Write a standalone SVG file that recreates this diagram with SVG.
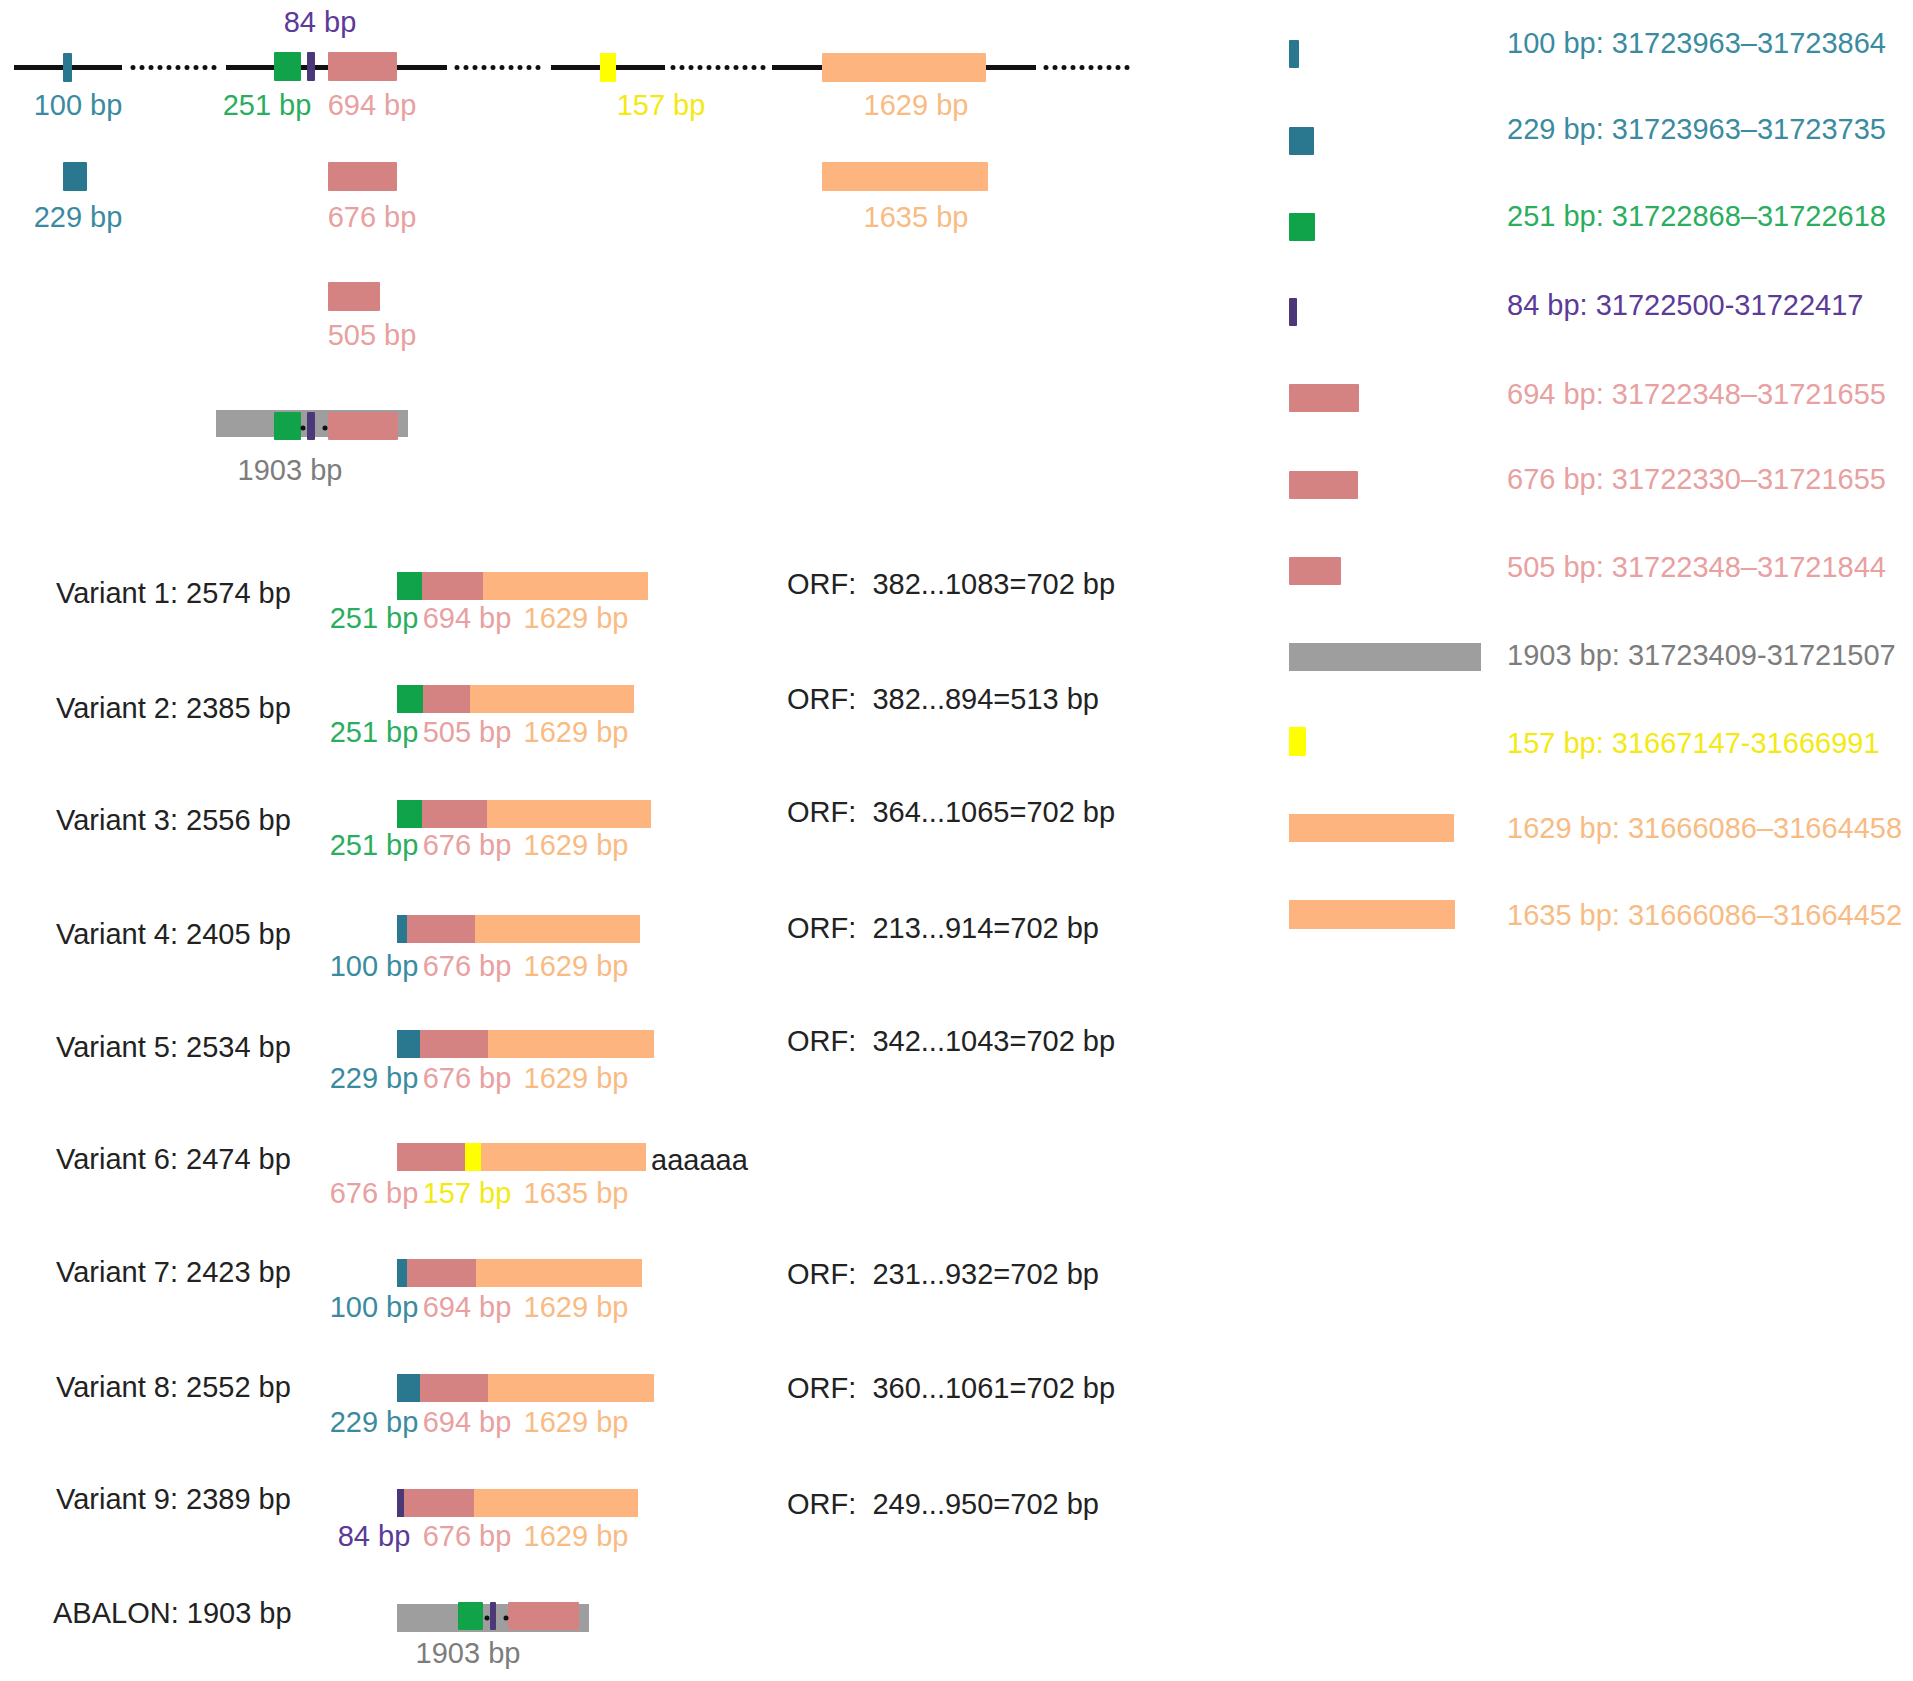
<svg xmlns="http://www.w3.org/2000/svg" width="1913" height="1681" viewBox="0 0 1913 1681">
<style>
text{font-family:"Liberation Sans",Arial,sans-serif;font-size:29px}
.c{text-anchor:middle}
.k{fill:#222}
.orf{fill:#222;white-space:pre}
.tT{fill:#3a8ba0}.tG{fill:#2aae5e}.tP{fill:#5b3a98}.tR{fill:#e8a0a0}.tY{fill:#f2ea12}.tO{fill:#f8bb84}.tA{fill:#7d7d7d}
.bT{fill:#2a7890}.bG{fill:#10a34a}.bP{fill:#4b3878}.bR{fill:#d48282}.bY{fill:#ffff00}.bO{fill:#fdb47e}.bA{fill:#9e9e9e}
.solid{stroke:#111;stroke-width:5;fill:none}
.dot{stroke:#111;stroke-width:5;fill:none;stroke-dasharray:0 9;stroke-linecap:round}
</style>
<g id="connectors">
<line class="solid" x1="14" y1="67.5" x2="122" y2="67.5"/>
<line class="dot" x1="133" y1="67.5" x2="218" y2="67.5"/>
<line class="solid" x1="226" y1="67.5" x2="447" y2="67.5"/>
<line class="dot" x1="457" y1="67.5" x2="545" y2="67.5"/>
<line class="solid" x1="551" y1="67.5" x2="665" y2="67.5"/>
<line class="dot" x1="673" y1="67.5" x2="767" y2="67.5"/>
<line class="solid" x1="772" y1="67.5" x2="1036" y2="67.5"/>
<line class="dot" x1="1046" y1="67.5" x2="1130" y2="67.5"/>
</g>
<g id="exon-100"><rect class="bT" x="63" y="53" width="9" height="29" rx="1"/><text class="c tT" x="78" y="115">100 bp</text></g>
<g id="exon-251"><rect class="bG" x="274" y="52" width="27" height="29" rx="1"/><text class="c tG" x="267" y="115">251 bp</text></g>
<g id="exon-84"><rect class="bP" x="307" y="52" width="8" height="29" rx="1"/><text class="c tP" x="320" y="32">84 bp</text></g>
<g id="exon-694"><rect class="bR" x="328" y="52" width="69" height="29" rx="1"/><text class="c tR" x="372" y="115">694 bp</text></g>
<g id="exon-157"><rect class="bY" x="600" y="53" width="16" height="29" rx="1"/><text class="c tY" x="661" y="115">157 bp</text></g>
<g id="exon-1629"><rect class="bO" x="822" y="53" width="164" height="29" rx="1"/><text class="c tO" x="916" y="115">1629 bp</text></g>
<g id="exon-229"><rect class="bT" x="63" y="162" width="24" height="29" rx="1"/><text class="c tT" x="78" y="227">229 bp</text></g>
<g id="exon-676"><rect class="bR" x="328" y="162" width="69" height="29" rx="1"/><text class="c tR" x="372" y="227">676 bp</text></g>
<g id="exon-1635"><rect class="bO" x="822" y="162" width="166" height="29" rx="1"/><text class="c tO" x="916" y="227">1635 bp</text></g>
<g id="exon-505"><rect class="bR" x="328" y="282" width="52" height="29" rx="1"/><text class="c tR" x="372" y="345">505 bp</text></g>
<g id="exon-1903">
<rect class="bA" x="216" y="410" width="192" height="27"/>
<rect class="bG" x="274" y="412" width="27" height="28" rx="1"/>
<rect class="bP" x="307" y="412" width="8" height="28" rx="1"/>
<rect class="bR" x="328" y="412" width="70" height="28" rx="1"/>
<circle cx="303" cy="428" r="2.5" fill="#111"/><circle cx="325" cy="428" r="2.5" fill="#111"/>
<text class="c tA" x="290" y="480">1903 bp</text>
</g>
<g id="legend">
<g id="leg-100"><rect class="bT" x="1289" y="40" width="10" height="28" rx="1"/><text class="tT" x="1507" y="53">100 bp: 31723963–31723864</text></g>
<g id="leg-229"><rect class="bT" x="1289" y="127" width="25" height="28" rx="1"/><text class="tT" x="1507" y="139">229 bp: 31723963–31723735</text></g>
<g id="leg-251"><rect class="bG" x="1289" y="213" width="26" height="28" rx="1"/><text class="tG" x="1507" y="226">251 bp: 31722868–31722618</text></g>
<g id="leg-84"><rect class="bP" x="1289" y="298" width="8" height="28" rx="1"/><text class="tP" x="1507" y="315">84 bp: 31722500-31722417</text></g>
<g id="leg-694"><rect class="bR" x="1289" y="384" width="70" height="28" rx="1"/><text class="tR" x="1507" y="404">694 bp: 31722348–31721655</text></g>
<g id="leg-676"><rect class="bR" x="1289" y="471" width="69" height="28" rx="1"/><text class="tR" x="1507" y="489">676 bp: 31722330–31721655</text></g>
<g id="leg-505"><rect class="bR" x="1289" y="557" width="52" height="28" rx="1"/><text class="tR" x="1507" y="577">505 bp: 31722348–31721844</text></g>
<g id="leg-1903"><rect class="bA" x="1289" y="643" width="192" height="28"/><text class="tA" x="1507" y="665">1903 bp: 31723409-31721507</text></g>
<g id="leg-157"><rect class="bY" x="1289" y="727" width="17" height="29" rx="1"/><text class="tY" x="1507" y="753">157 bp: 31667147-31666991</text></g>
<g id="leg-1629"><rect class="bO" x="1289" y="814" width="165" height="28"/><text class="tO" x="1507" y="838">1629 bp: 31666086–31664458</text></g>
<g id="leg-1635"><rect class="bO" x="1289" y="900" width="166" height="29"/><text class="tO" x="1507" y="925">1635 bp: 31666086–31664452</text></g>
</g>
<g id="variant-1">
<text class="k" x="56" y="603">Variant 1: 2574 bp</text>
<rect class="bG" x="397" y="572" width="25" height="28"/><rect class="bR" x="422" y="572" width="61" height="28"/><rect class="bO" x="483" y="572" width="165" height="28"/>
<text class="c tG" x="374" y="628">251 bp</text><text class="c tR" x="467" y="628">694 bp</text><text class="c tO" x="576" y="628">1629 bp</text>
<text class="orf" x="787" y="594">ORF:  382...1083=702 bp</text>
</g>
<g id="variant-2">
<text class="k" x="56" y="718">Variant 2: 2385 bp</text>
<rect class="bG" x="397" y="685" width="26" height="28"/><rect class="bR" x="423" y="685" width="47" height="28"/><rect class="bO" x="470" y="685" width="164" height="28"/>
<text class="c tG" x="374" y="742">251 bp</text><text class="c tR" x="467" y="742">505 bp</text><text class="c tO" x="576" y="742">1629 bp</text>
<text class="orf" x="787" y="709">ORF:  382...894=513 bp</text>
</g>
<g id="variant-3">
<text class="k" x="56" y="830">Variant 3: 2556 bp</text>
<rect class="bG" x="397" y="800" width="25" height="28"/><rect class="bR" x="422" y="800" width="65" height="28"/><rect class="bO" x="487" y="800" width="164" height="28"/>
<text class="c tG" x="374" y="855">251 bp</text><text class="c tR" x="467" y="855">676 bp</text><text class="c tO" x="576" y="855">1629 bp</text>
<text class="orf" x="787" y="822">ORF:  364...1065=702 bp</text>
</g>
<g id="variant-4">
<text class="k" x="56" y="944">Variant 4: 2405 bp</text>
<rect class="bT" x="397" y="915" width="10" height="28"/><rect class="bR" x="407" y="915" width="68" height="28"/><rect class="bO" x="475" y="915" width="165" height="28"/>
<text class="c tT" x="374" y="976">100 bp</text><text class="c tR" x="467" y="976">676 bp</text><text class="c tO" x="576" y="976">1629 bp</text>
<text class="orf" x="787" y="938">ORF:  213...914=702 bp</text>
</g>
<g id="variant-5">
<text class="k" x="56" y="1057">Variant 5: 2534 bp</text>
<rect class="bT" x="397" y="1030" width="23" height="28"/><rect class="bR" x="420" y="1030" width="68" height="28"/><rect class="bO" x="488" y="1030" width="166" height="28"/>
<text class="c tT" x="374" y="1088">229 bp</text><text class="c tR" x="467" y="1088">676 bp</text><text class="c tO" x="576" y="1088">1629 bp</text>
<text class="orf" x="787" y="1051">ORF:  342...1043=702 bp</text>
</g>
<g id="variant-6">
<text class="k" x="56" y="1169">Variant 6: 2474 bp</text>
<rect class="bR" x="397" y="1143" width="68" height="28"/><rect class="bY" x="465" y="1143" width="16" height="28"/><rect class="bO" x="481" y="1143" width="165" height="28"/>
<text class="k" x="651" y="1170">aaaaaa</text>
<text class="c tR" x="374" y="1203">676 bp</text><text class="c tY" x="467" y="1203">157 bp</text><text class="c tO" x="576" y="1203">1635 bp</text>
</g>
<g id="variant-7">
<text class="k" x="56" y="1282">Variant 7: 2423 bp</text>
<rect class="bT" x="397" y="1259" width="10" height="28"/><rect class="bR" x="407" y="1259" width="69" height="28"/><rect class="bO" x="476" y="1259" width="166" height="28"/>
<text class="c tT" x="374" y="1317">100 bp</text><text class="c tR" x="467" y="1317">694 bp</text><text class="c tO" x="576" y="1317">1629 bp</text>
<text class="orf" x="787" y="1284">ORF:  231...932=702 bp</text>
</g>
<g id="variant-8">
<text class="k" x="56" y="1397">Variant 8: 2552 bp</text>
<rect class="bT" x="397" y="1374" width="23" height="28"/><rect class="bR" x="420" y="1374" width="68" height="28"/><rect class="bO" x="488" y="1374" width="166" height="28"/>
<text class="c tT" x="374" y="1432">229 bp</text><text class="c tR" x="467" y="1432">694 bp</text><text class="c tO" x="576" y="1432">1629 bp</text>
<text class="orf" x="787" y="1398">ORF:  360...1061=702 bp</text>
</g>
<g id="variant-9">
<text class="k" x="56" y="1509">Variant 9: 2389 bp</text>
<rect class="bP" x="397" y="1489" width="7" height="28"/><rect class="bR" x="404" y="1489" width="70" height="28"/><rect class="bO" x="474" y="1489" width="164" height="28"/>
<text class="c tP" x="374" y="1546">84 bp</text><text class="c tR" x="467" y="1546">676 bp</text><text class="c tO" x="576" y="1546">1629 bp</text>
<text class="orf" x="787" y="1514">ORF:  249...950=702 bp</text>
</g>
<g id="abalon">
<text class="k" x="53" y="1623">ABALON: 1903 bp</text>
<rect class="bA" x="397" y="1604" width="192" height="28"/>
<rect class="bG" x="458" y="1602" width="25" height="28" rx="1"/>
<rect class="bP" x="490" y="1602" width="6" height="28" rx="1"/>
<rect class="bR" x="508" y="1602" width="71" height="28" rx="1"/>
<circle cx="487" cy="1618" r="2.5" fill="#111"/><circle cx="506" cy="1618" r="2.5" fill="#111"/>
<text class="c tA" x="468" y="1663">1903 bp</text>
</g>
</svg>
